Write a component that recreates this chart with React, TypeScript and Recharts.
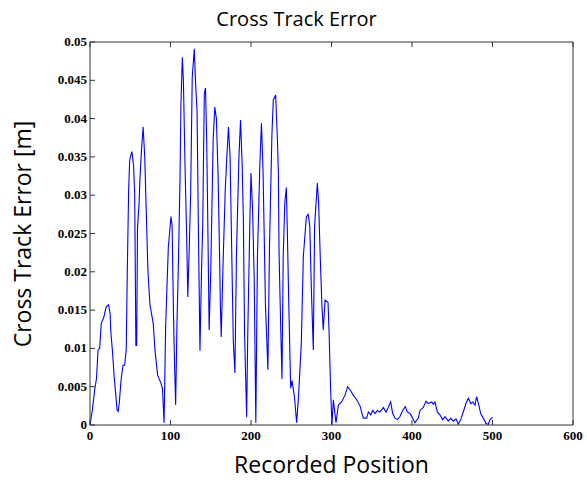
import { LineChart, Line, XAxis, YAxis } from "recharts";

const positions = [
  0, 3, 5.8, 8, 10, 12, 14, 17, 20, 23, 25, 26, 28, 30, 32, 33.6, 35, 36.5, 38.6, 41,
  43, 45, 46.3, 48, 49.3, 52, 54, 55.5, 57, 58, 59, 61, 62, 64, 66, 68, 70, 72, 74.5, 78.6,
  80.7, 84, 88, 90, 92, 94, 97.3, 100.6, 102, 103.5, 105, 106.4, 108, 110, 111.8, 113, 114.7, 116, 118, 120,
  121.5, 123, 125, 127, 129.6, 131, 133, 134.5, 136.6, 138.5, 140, 142, 143.5, 145, 146.5, 148, 150, 153, 155, 157,
  159, 161, 162, 163, 165, 168, 170, 172, 174, 176, 178, 180, 182, 185, 187, 189, 190.5, 192, 194.6, 196,
  198.8, 200, 202, 204, 206, 208, 211, 213, 215, 218, 221, 223, 226, 227.7, 230.6, 232.7, 234, 234.8, 236, 237,
  238.5, 240, 242, 243.9, 245, 247, 249.3, 251, 254, 256.7, 259, 262.5, 265, 268.8, 271, 273, 275, 277.4, 279, 282.4,
  284, 286, 288, 289.8, 292, 295.7, 297, 299, 300.6, 302.3, 305.6, 308.5, 312.6, 316.8, 320, 323, 327, 331.3, 335.4, 339.5,
  343.7, 345.8, 348.7, 351.2, 354, 357, 360.2, 364.4, 367.7, 370.6, 373.5, 376, 378.9, 381.8, 385.1, 388.4, 391.7, 394.2, 397.5, 400.8,
  403.7, 407.9, 409.9, 414, 417.4, 420.3, 424.4, 426.5, 428.6, 431.5, 434.8, 438.1, 441, 445.1, 448.1, 451.3, 454.7, 457.5, 460.5, 463.7,
  467, 470, 473.2, 475.4, 478.3, 480.3, 483.2, 485.3, 488.6, 491.9, 494.8, 496.9, 500.2,
];
const errors = [
  0, 0.002, 0.0046, 0.006, 0.0098, 0.01, 0.0133, 0.014, 0.0154, 0.0157, 0.0145, 0.012, 0.0095, 0.0063, 0.004, 0.002, 0.0018, 0.003, 0.0059, 0.0078,
  0.0078, 0.0098, 0.0198, 0.0307, 0.0346, 0.0357, 0.034, 0.0304, 0.0104, 0.0104, 0.0257, 0.029, 0.032, 0.036, 0.0389, 0.035, 0.0274, 0.02, 0.0157, 0.0132,
  0.0098, 0.0065, 0.0055, 0.0048, 0.0003, 0.013, 0.0232, 0.0272, 0.026, 0.0156, 0.008, 0.0026, 0.013, 0.022, 0.032, 0.042, 0.048, 0.045, 0.034, 0.025,
  0.0167, 0.022, 0.03, 0.0454, 0.0491, 0.045, 0.041, 0.027, 0.0097, 0.02, 0.026, 0.0433, 0.044, 0.037, 0.025, 0.0124, 0.02, 0.0372, 0.0415, 0.04,
  0.033, 0.022, 0.0154, 0.0115, 0.02, 0.0307, 0.035, 0.0389, 0.035, 0.023, 0.011, 0.0068, 0.0225, 0.035, 0.0398, 0.034, 0.027, 0.012, 0.001, 0.012,
  0.0277, 0.0329, 0.028, 0.019, 0.0003, 0.022, 0.034, 0.0394, 0.033, 0.0155, 0.0072, 0.0234, 0.038, 0.0424, 0.0431, 0.0376, 0.033, 0.0228, 0.017, 0.0123,
  0.006, 0.022, 0.029, 0.031, 0.026, 0.0155, 0.0048, 0.0058, 0.0036, 0.0003, 0.0037, 0.0106, 0.022, 0.0272, 0.0275, 0.026, 0.0177, 0.0098, 0.026, 0.0316,
  0.029, 0.022, 0.0158, 0.0124, 0.0163, 0.016, 0.0121, 0.0043, 0, 0.0033, 0.0003, 0.0026, 0.003, 0.0039, 0.005, 0.0046, 0.0039, 0.0033, 0.0025, 0.0009,
  0.0009, 0.0017, 0.0013, 0.0019, 0.0015, 0.0019, 0.0017, 0.0023, 0.0017, 0.0023, 0.003, 0.0015, 0.0009, 0.0007, 0.0011, 0.0019, 0.0024, 0.0017, 0.0015, 0.0009,
  0.0003, 0.0009, 0.0019, 0.0023, 0.0031, 0.0028, 0.003, 0.0027, 0.003, 0.0017, 0.0013, 0.0007, 0.0011, 0.0005, 0.0009, 0.0005, 0.0008, 0.0001, 0.0007, 0.0017,
  0.0028, 0.0035, 0.0028, 0.003, 0.0026, 0.0037, 0.0025, 0.0015, 0.0009, 0.0002, 0.0001, 0.0007, 0.001,
];

const xTicks = [0, 100, 200, 300, 400, 500, 600];
const yTicks = [0, 0.005, 0.01, 0.015, 0.02, 0.025, 0.03, 0.035, 0.04, 0.045, 0.05];

const data = positions.map((x, i) => ({ x, y: errors[i] }));

const W = 587;
const H = 483;
const PLOT = { left: 90, right: 573, top: 42, bottom: 425 };
const TICK = 5;
const FRAME = "#333333";
const tickFont = { fontFamily: "Liberation Serif", fontWeight: 700, fontSize: 13 };

function BottomTick({ x, payload }: any) {
  return (
    <g>
      <line x1={x} x2={x} y1={PLOT.bottom} y2={PLOT.bottom - TICK} stroke={FRAME} />
      <text x={x} y={PLOT.bottom + 15} textAnchor="middle" fill="#000" style={tickFont}>
        {payload.value}
      </text>
    </g>
  );
}

function TopTick({ x }: any) {
  return <line x1={x} x2={x} y1={PLOT.top} y2={PLOT.top + TICK} stroke={FRAME} />;
}

function LeftTick({ y, payload }: any) {
  return (
    <g>
      <line x1={PLOT.left} x2={PLOT.left + TICK} y1={y} y2={y} stroke={FRAME} />
      <text x={PLOT.left - 3} y={y + 4} textAnchor="end" fill="#000" style={tickFont}>
        {payload.value}
      </text>
    </g>
  );
}

function RightTick({ y }: any) {
  return <line x1={PLOT.right} x2={PLOT.right - TICK} y1={y} y2={y} stroke={FRAME} />;
}

export default function App() {
  const labelFont = { fontFamily: "Open Sans", color: "#000", position: "absolute" as const, whiteSpace: "nowrap" as const };
  return (
    <div style={{ position: "absolute", left: 0, top: 0, width: W, height: H, background: "#fff" }}>
      <LineChart
        width={W}
        height={H}
        data={data}
        margin={{ top: PLOT.top - 1, right: W - PLOT.right - 1, left: 40, bottom: 28 }}
      >
        <XAxis
          xAxisId="bottom"
          dataKey="x"
          type="number"
          domain={[0, 600]}
          ticks={xTicks}
          height={30}
          stroke={FRAME}
          tickLine={false}
          tick={<BottomTick />}
          interval={0}
        />
        <XAxis
          xAxisId="top"
          orientation="top"
          dataKey="x"
          type="number"
          domain={[0, 600]}
          ticks={xTicks}
          height={1}
          stroke={FRAME}
          tickLine={false}
          tick={<TopTick />}
          interval={0}
        />
        <YAxis
          yAxisId="left"
          type="number"
          domain={[0, 0.05]}
          ticks={yTicks}
          width={50}
          stroke={FRAME}
          tickLine={false}
          tick={<LeftTick />}
          interval={0}
        />
        <YAxis
          yAxisId="right"
          orientation="right"
          type="number"
          domain={[0, 0.05]}
          ticks={yTicks}
          width={1}
          stroke={FRAME}
          tickLine={false}
          tick={<RightTick />}
          interval={0}
        />
        <Line
          xAxisId="bottom"
          yAxisId="left"
          type="linear"
          dataKey="y"
          stroke="#0000ff"
          strokeWidth={1.1}
          dot={false}
          isAnimationActive={false}
        />
      </LineChart>
      <div style={{ ...labelFont, left: 0, width: W, top: 5, textAlign: "center", fontSize: 20 }}>
        <span style={{ position: "relative", left: 3 }}>Cross Track Error</span>
      </div>
      <div style={{ ...labelFont, left: PLOT.left, width: PLOT.right - PLOT.left, top: 448, textAlign: "center", fontSize: 23 }}>
        Recorded Position
      </div>
      <div
        style={{
          ...labelFont,
          left: 22,
          top: (PLOT.top + PLOT.bottom) / 2,
          fontSize: 23,
          transform: "translate(-50%, -50%) rotate(-90deg)",
        }}
      >
        Cross Track Error [m]
      </div>
    </div>
  );
}
